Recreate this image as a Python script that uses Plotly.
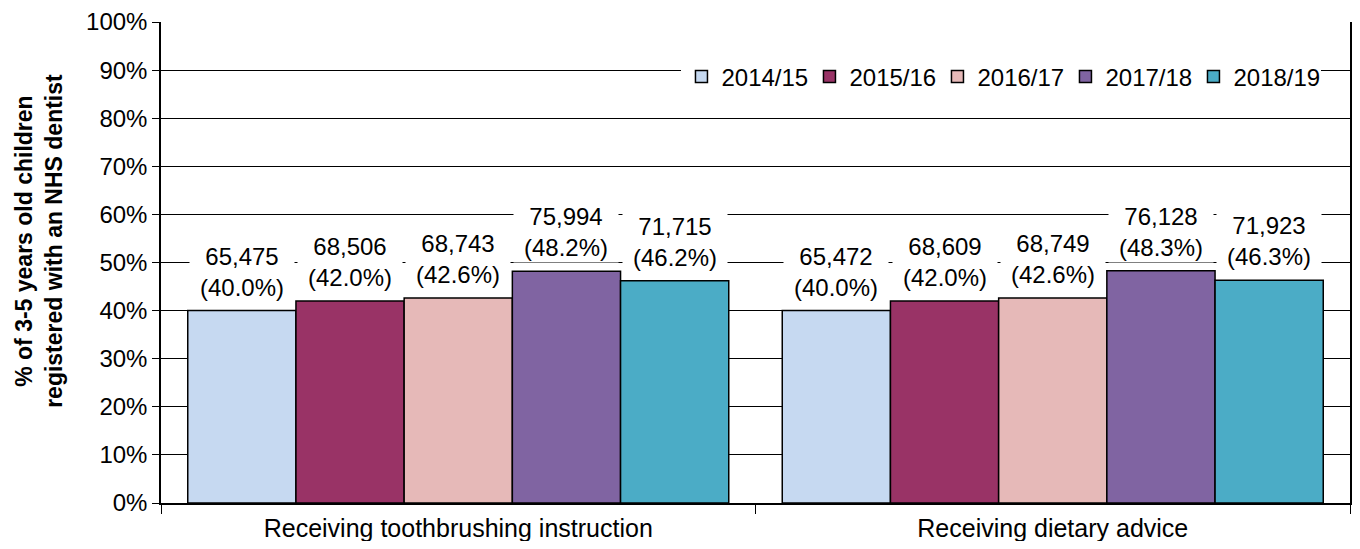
import plotly.graph_objects as go

categories = ["Receiving toothbrushing instruction", "Receiving dietary advice"]
years = ["2014/15", "2015/16", "2016/17", "2017/18", "2018/19"]
colors = ["#C6D9F1", "#993366", "#E6B9B8", "#8064A2", "#4BACC6"]
# percentage values per year, one per category
pct_2014 = [40.0, 40.0]
pct_2015 = [42.0, 42.0]
pct_2016 = [42.6, 42.6]
pct_2017 = [48.2, 48.3]
pct_2018 = [46.2, 46.3]
cnt_2014 = [65475, 65472]
cnt_2015 = [68506, 68609]
cnt_2016 = [68743, 68749]
cnt_2017 = [75994, 76128]
cnt_2018 = [71715, 71923]
y_title = "% of 3-5 years old children<br>registered with an NHS dentist"

pcts = [pct_2014, pct_2015, pct_2016, pct_2017, pct_2018]
cnts = [cnt_2014, cnt_2015, cnt_2016, cnt_2017, cnt_2018]

FONT = "Arial, Liberation Sans, sans-serif"
bargap = 0.09
nser = len(years)
bw = (1 - bargap) / nser

fig = go.Figure()
annotations = []
for i, (yr, col, p, c) in enumerate(zip(years, colors, pcts, cnts)):
    fig.add_trace(go.Bar(
        name=yr, x=categories, y=[v / 100 for v in p],
        marker=dict(color=col, line=dict(color="black", width=1.5)),
        hoverinfo="skip",
    ))
    for ci in range(len(categories)):
        off = -(1 - bargap) / 2 + bw * (i + 0.5)
        annotations.append(dict(
            x=ci + off, y=p[ci] / 100, xref="x", yref="y",
            text=f"{c[ci]:,}<br>({p[ci]:.1f}%)",
            showarrow=False, yanchor="bottom", yshift=8,
            bgcolor="white", width=102, borderpad=1,
            font=dict(family=FONT, size=24, color="black"),
        ))

# y-axis title as a rotated annotation (positioned like the reference)
annotations.append(dict(
    text=f"<b>{y_title}</b>", textangle=-90, showarrow=False,
    xref="paper", yref="paper", x=0, y=0.545, xanchor="center", yanchor="middle",
    xshift=-122, font=dict(family=FONT, size=23, color="black"),
))

fig.update_layout(
    width=1344, height=533,
    margin=dict(l=153, r=2, t=14, b=38),
    paper_bgcolor="white", plot_bgcolor="white",
    barmode="group", bargap=bargap, bargroupgap=0,
    font=dict(family=FONT, color="black"),
    annotations=annotations,
    legend=dict(
        orientation="h", x=0.976, xanchor="right", y=0.886, yanchor="middle",
        bgcolor="white", font=dict(family=FONT, size=24, color="black"),
        itemwidth=30, entrywidth=83, traceorder="normal",
    ),
    showlegend=True,
)
fig.update_yaxes(
    range=[0, 1], tickformat=".0%", dtick=0.1,
    showgrid=True, gridcolor="black", gridwidth=1,
    showline=True, linecolor="black", linewidth=1.5, mirror=True,
    ticks="outside", ticklen=7, tickcolor="black",
    tickfont=dict(family=FONT, size=24, color="black"),
    zeroline=False, automargin=False,
)
fig.update_xaxes(
    showline=True, linecolor="black", linewidth=1.5,
    ticks="outside", tickson="boundaries", ticklen=9, tickcolor="black",
    tickfont=dict(family=FONT, size=25, color="black"),
    ticklabelstandoff=2,
    automargin=False,
)

fig.write_html("out.html")
